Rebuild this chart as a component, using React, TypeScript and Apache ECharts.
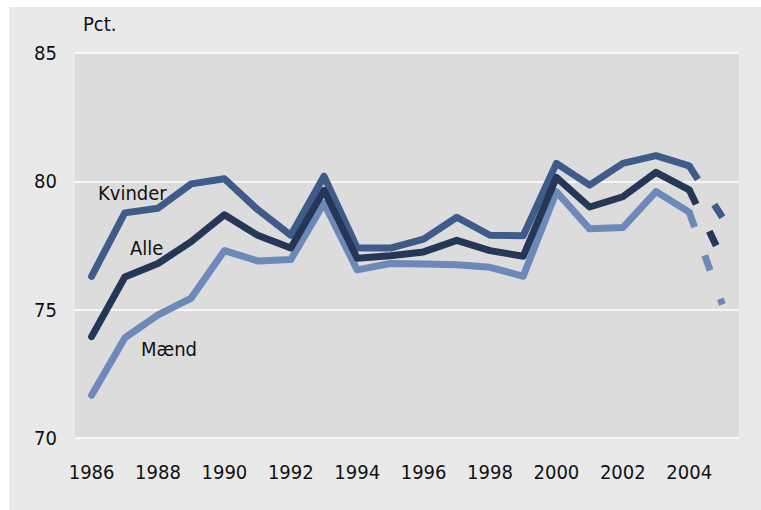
import React, { useEffect, useRef } from "react";
import * as echarts from "echarts";

const years = ["1986","1987","1988","1989","1990","1991","1992","1993","1994","1995","1996","1997","1998","1999","2000","2001","2002","2003","2004","2005"];
const kvinder = [76.3, 78.77, 78.95, 79.9, 80.1, 78.9, 77.9, 80.2, 77.4, 77.4, 77.75, 78.6, 77.9, 77.88, 80.7, 79.85, 80.7, 81.0, 80.6];
const alle = [73.95, 76.27, 76.8, 77.65, 78.7, 77.9, 77.4, 79.65, 77.0, 77.1, 77.25, 77.7, 77.3, 77.08, 80.15, 79.0, 79.4, 80.35, 79.67];
const maend = [71.67, 73.9, 74.8, 75.45, 77.3, 76.9, 76.95, 79.15, 76.55, 76.8, 76.78, 76.75, 76.65, 76.3, 79.6, 78.15, 78.2, 79.6, 78.8];
const kvinder2005 = 78.6;
const alle2005 = 77.0;
const maend2005 = 75.2;
const yTicks = [70, 75, 80, 85];

const FONT = "'Liberation Sans Narrow', 'DejaVu Sans Condensed', 'Arial Narrow', sans-serif";
const C_K = "#3f5b8a";
const C_A = "#243756";
const C_M = "#6c89b9";

function solid(arr: number[]) {
  return [...arr, null];
}
function proj(arr: number[], last: number) {
  return years.map((_, i) => (i === years.length - 2 ? arr[arr.length - 1] : i === years.length - 1 ? last : null));
}

export default function App() {
  const ref = useRef<HTMLDivElement>(null);
  useEffect(() => {
    if (!ref.current) return;
    const chart = echarts.init(ref.current, null, { renderer: "svg" });
    const mkSolid = (name: string, data: any[], color: string, z: number) => ({
      name, type: "line", data, showSymbol: false, symbol: "none", z,
      lineStyle: { color, width: 7, cap: "round", join: "round" },
    });
    const mkDash = (name: string, data: any[], color: string, z: number) => ({
      name: name + " prognose", type: "line", data, showSymbol: false, symbol: "none", z,
      lineStyle: { color, width: 7, type: [16, 30], cap: "butt" },
    });
    chart.setOption({
      animation: false,
      backgroundColor: "#ffffff",
      textStyle: { fontFamily: FONT },
      graphic: [
        { type: "rect", z: -10, silent: true, shape: { x: 9, y: 7, width: 752, height: 503 }, style: { fill: "#e9e9e9" } },
        { type: "text", x: 83, y: 24, style: { text: "Pct.", fontFamily: FONT, fontSize: 20, fill: "#111", verticalAlign: "middle" } },
        { type: "text", x: 98, y: 193, z: 10, style: { text: "Kvinder", fontFamily: FONT, fontSize: 20, fill: "#111", verticalAlign: "middle" } },
        { type: "text", x: 130, y: 248, z: 10, style: { text: "Alle", fontFamily: FONT, fontSize: 20, fill: "#111", verticalAlign: "middle" } },
        { type: "text", x: 141, y: 349, z: 10, style: { text: "Mænd", fontFamily: FONT, fontSize: 20, fill: "#111", verticalAlign: "middle" } },
      ],
      grid: { left: 75, top: 53, right: 22, bottom: 72, show: true, backgroundColor: "#dcdcdc", borderWidth: 0 },
      xAxis: {
        type: "category", data: years, boundaryGap: true,
        axisLine: { show: false }, axisTick: { show: false },
        axisLabel: { interval: 1, color: "#111", fontSize: 20, fontFamily: FONT, margin: 24 },
        splitLine: { show: false },
      },
      yAxis: {
        type: "value", min: 70, max: 85, interval: 5,
        axisLine: { show: false }, axisTick: { show: false },
        axisLabel: { color: "#111", fontSize: 20, fontFamily: FONT, margin: 18, formatter: (v: number) => (yTicks.includes(v) ? String(v) : "") },
        splitLine: { show: true, lineStyle: { color: "#ffffff", width: 1.5 } },
      },
      series: [
        mkSolid("Kvinder", solid(kvinder), C_K, 2),
        mkSolid("Mænd", solid(maend), C_M, 3),
        mkSolid("Alle", solid(alle), C_A, 4),
        mkDash("Kvinder", proj(kvinder, kvinder2005), C_K, 2),
        mkDash("Mænd", proj(maend, maend2005), C_M, 3),
        mkDash("Alle", proj(alle, alle2005), C_A, 4),
      ],
    });
    return () => chart.dispose();
  }, []);
  return <div ref={ref} style={{ position: "fixed", left: 0, top: 0, width: 761, height: 510 }} />;
}
